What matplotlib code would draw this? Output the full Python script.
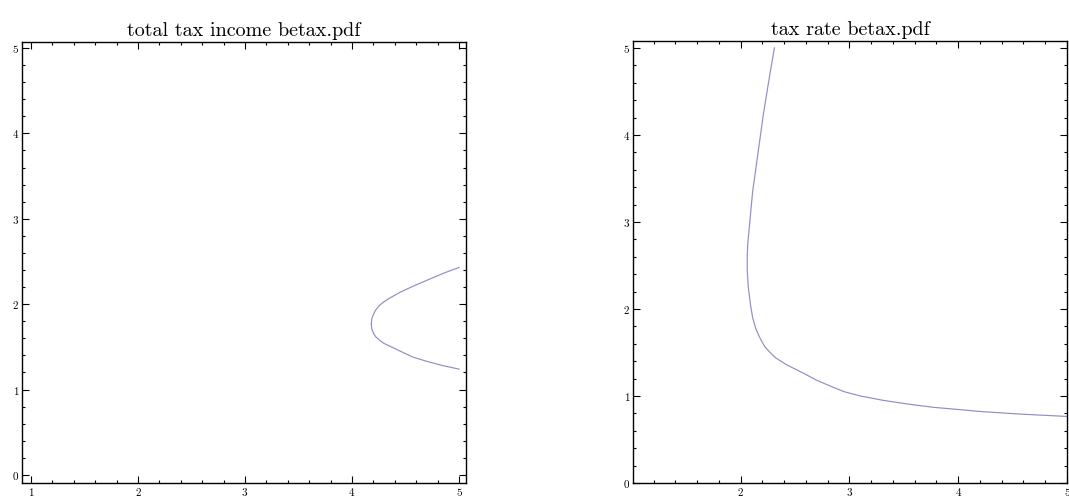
import matplotlib
matplotlib.use("Agg")
import matplotlib.pyplot as plt
import numpy as np
from matplotlib.ticker import MultipleLocator

plt.rcParams['font.family'] = ['cmr10', 'DejaVu Serif']
plt.rcParams['axes.formatter.use_mathtext'] = True

# Left panel: total tax income contour (upper and lower branch)
left_title = "total tax income betax.pdf"
left_upper_x = [4.18, 4.185, 4.20, 4.22, 4.26, 4.30, 4.35, 4.45, 4.57, 4.70, 4.85, 5.00]
left_upper_y = [1.77, 1.83, 1.88, 1.93, 1.99, 2.03, 2.07, 2.14, 2.21, 2.28, 2.36, 2.43]
left_lower_x = [4.18, 4.185, 4.20, 4.22, 4.26, 4.30, 4.35, 4.45, 4.57, 4.70, 4.85, 5.00]
left_lower_y = [1.77, 1.71, 1.66, 1.62, 1.575, 1.54, 1.51, 1.45, 1.38, 1.33, 1.28, 1.24]

# Right panel: tax rate contour
right_title = "tax rate betax.pdf"
right_x = [2.31, 2.27, 2.21, 2.16, 2.11, 2.08, 2.065, 2.06, 2.06, 2.07, 2.09,
           2.11, 2.14, 2.18, 2.22, 2.27, 2.32, 2.42, 2.50, 2.58, 2.70, 2.85,
           2.95, 3.10, 3.31, 3.55, 3.77, 4.00, 4.22, 4.60, 5.00]
right_y = [5.00, 4.71, 4.25, 3.80, 3.35, 2.95, 2.75, 2.60, 2.45, 2.25, 2.05,
           1.90, 1.77, 1.66, 1.57, 1.50, 1.44, 1.36, 1.31, 1.26, 1.18, 1.10,
           1.05, 1.00, 0.95, 0.905, 0.87, 0.845, 0.82, 0.79, 0.765]

line_color = '#8e8ec8'

fig = plt.figure(figsize=(10.69, 4.97), dpi=100)
axL = fig.add_axes([22/1069, 1-483/497, 444/1069, 441/497])
axR = fig.add_axes([633/1069, 1-483/497, 434/1069, 442/497])

def style(ax):
    ax.xaxis.set_major_locator(MultipleLocator(1))
    ax.xaxis.set_minor_locator(MultipleLocator(0.2))
    ax.yaxis.set_major_locator(MultipleLocator(1))
    ax.yaxis.set_minor_locator(MultipleLocator(0.2))
    ax.tick_params(which='both', direction='in', top=True, right=True,
                   labeltop=False, labelright=False, width=0.8, color='black')
    ax.tick_params(which='major', length=5, labelsize=8, pad=2)
    ax.tick_params(which='minor', length=2.5)
    for s in ax.spines.values():
        s.set_linewidth(1.0)

axL.plot(left_upper_x, left_upper_y, color=line_color, lw=0.85)
axL.plot(left_lower_x, left_lower_y, color=line_color, lw=0.85)
axL.set_xlim(0.916, 5.065)
axL.set_ylim(-0.094, 5.07)
style(axL)
axL.set_title(left_title, fontsize=14.5, pad=4)

axR.plot(right_x, right_y, color=line_color, lw=0.85)
axR.set_xlim(1.01, 5.0)
axR.set_ylim(0.0, 5.08)
style(axR)
axR.set_title(right_title, fontsize=14.5, pad=4)

fig.savefig("out.png", dpi=100)
